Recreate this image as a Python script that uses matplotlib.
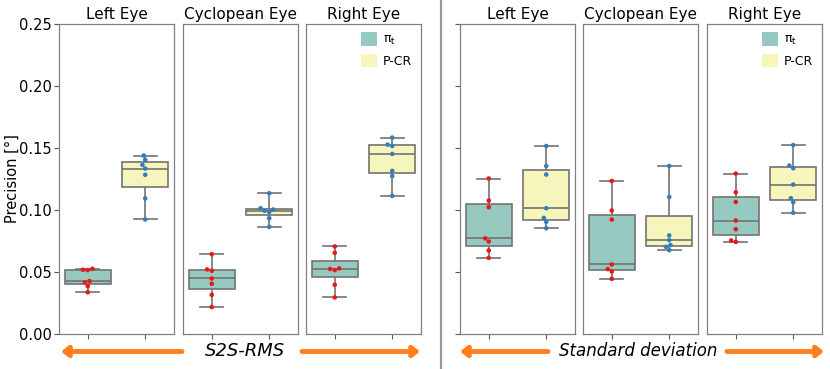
import matplotlib
matplotlib.use("Agg")
import matplotlib.pyplot as plt
import pandas as pd
import seaborn as sns
from matplotlib.lines import Line2D
from matplotlib.patches import Patch, FancyArrowPatch

panels = ["Left Eye", "Cyclopean Eye", "Right Eye"]
methods = ["pit", "P-CR"]

# per-subject precision [deg], one list per panel (Left, Cyclopean, Right)
rms_pit = [[0.0332, 0.0382, 0.0412, 0.0423, 0.0511, 0.0514, 0.0522],
           [0.0213, 0.0312, 0.0401, 0.0444, 0.0506, 0.0517, 0.0640],
           [0.0291, 0.0393, 0.0511, 0.0520, 0.0525, 0.0651, 0.0702]]
rms_pcr = [[0.0920, 0.1090, 0.1280, 0.1330, 0.1360, 0.1400, 0.1435],
           [0.0860, 0.0930, 0.0980, 0.0990, 0.1000, 0.1010, 0.1131],
           [0.1110, 0.1270, 0.1311, 0.1448, 0.1512, 0.1523, 0.1580]]
std_pit = [[0.0610, 0.0670, 0.0742, 0.0767, 0.1019, 0.1072, 0.1250],
           [0.0441, 0.0500, 0.0520, 0.0557, 0.0919, 0.0992, 0.1230],
           [0.0739, 0.0750, 0.0841, 0.0911, 0.1061, 0.1139, 0.1290]]
std_pcr = [[0.0849, 0.0900, 0.0932, 0.1010, 0.1282, 0.1351, 0.1512],
           [0.0672, 0.0699, 0.0713, 0.0753, 0.0791, 0.1101, 0.1351],
           [0.0973, 0.1059, 0.1091, 0.1201, 0.1333, 0.1354, 0.1520]]

box_colors = {"pit": "#8dd3c7", "P-CR": "#ffffb3"}
dot_colors = {"pit": "#e41a1c", "P-CR": "#377eb8"}

W, H = 830, 369
fig = plt.figure(figsize=(W / 100, H / 100), dpi=100)

lefts = [59, 183, 306, 460, 583, 707]
groups = [(rms_pit, rms_pcr)] * 3 + [(std_pit, std_pcr)] * 3

for i, left in enumerate(lefts):
    ax = fig.add_axes([left / W, 1 - 333.5 / H, 115 / W, 310 / H])
    pit, pcr = groups[i]
    k = i % 3
    df = pd.DataFrame({
        "method": ["pit"] * len(pit[k]) + ["P-CR"] * len(pcr[k]),
        "value": pit[k] + pcr[k],
    })
    sns.boxplot(data=df, x="method", y="value", hue="method", order=methods,
                palette=box_colors, whis=(0, 100), width=0.8, linewidth=1.2,
                linecolor="0.45", legend=False, ax=ax)
    sns.swarmplot(data=df, x="method", y="value", hue="method", order=methods,
                  palette=dot_colors, size=3.3, legend=False, ax=ax)
    ax.set_xlim(-0.5, 1.5)
    ax.set_ylim(0, 0.25)
    ax.set_xticks([0, 1])
    ax.set_xticklabels([])
    ax.set_xlabel("")
    ax.set_ylabel("")
    ax.set_title(panels[k], fontsize=11, pad=3)
    for s in ax.spines.values():
        s.set_color("0.5")
        s.set_linewidth(0.9)
    ax.tick_params(colors="0.35", length=3.5, width=0.8, pad=1.5)
    if i == 0:
        ax.set_yticks([0, 0.05, 0.10, 0.15, 0.20, 0.25])
        ax.set_yticklabels(["0.00", "0.05", "0.10", "0.15", "0.20", "0.25"],
                           fontsize=10.5, color="black")
        ax.set_ylabel("Precision [°]", fontsize=10.5)
        ax.yaxis.set_label_coords(-0.345, 0.5)
    elif i == 3:
        ax.set_yticks([0, 0.05, 0.10, 0.15, 0.20, 0.25])
        ax.set_yticklabels([])
    else:
        ax.set_yticks([])
    if k == 2:
        handles = [Patch(facecolor=sns.desaturate(box_colors[m], 0.75), edgecolor="none")
                   for m in methods]
        ax.legend(handles, [r"$\mathrm{\pi_t}$", "P-CR"], loc="upper right",
                  frameon=False, fontsize=9, handlelength=1.3, handleheight=1.3,
                  labelspacing=0.5, borderaxespad=0.3, handletextpad=0.5)

# divider between the two groups
fig.add_artist(Line2D([440.5 / W, 440.5 / W], [0, 1], transform=fig.transFigure,
                      color="#8c9c99", lw=1.6))

# bottom captions with arrows
arrow_y = 1 - 351.5 / H
orange = "#ff7f1e"
arrows = [(182, 61), (302, 420), (548, 460), (727, 824)]
for x0, x1 in arrows:
    fig.add_artist(FancyArrowPatch(
        (x0 / W, arrow_y), (x1 / W, arrow_y), transform=fig.transFigure,
        arrowstyle="-|>,head_width=0.22,head_length=0.28", mutation_scale=14,
        color=orange, lw=3.5, shrinkA=0, shrinkB=0))
fig.text(245 / W, arrow_y, "S2S-RMS", ha="center", va="center",
         fontsize=13, style="italic")
fig.text(638 / W, arrow_y, "Standard deviation", ha="center", va="center",
         fontsize=12, style="italic")

fig.savefig("out.png", dpi=100)
